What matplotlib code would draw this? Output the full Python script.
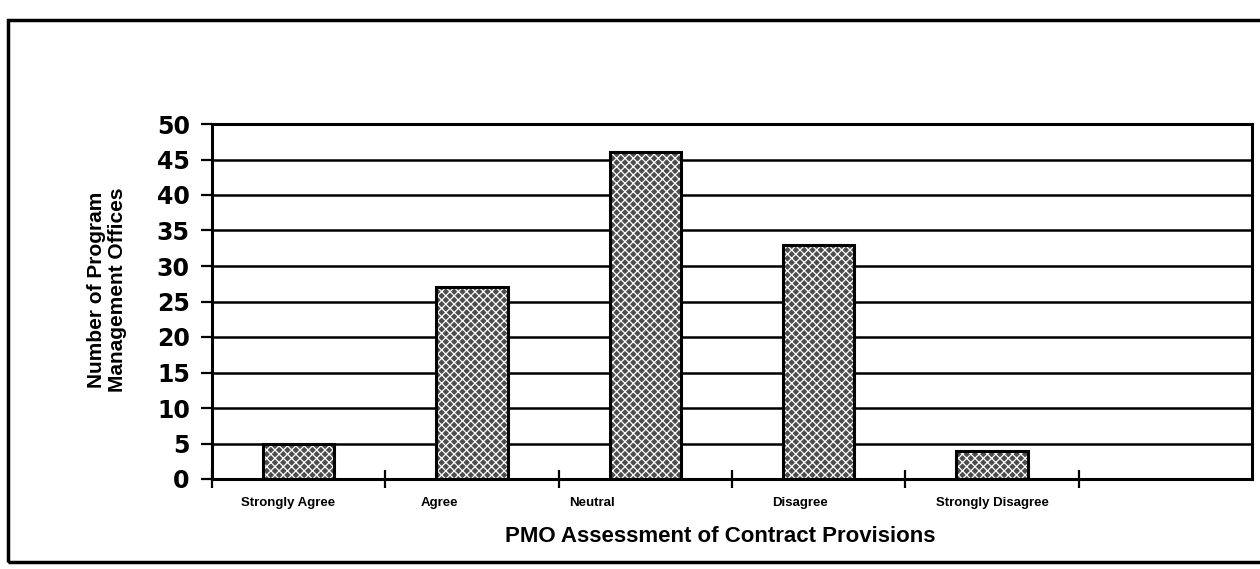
import numpy as np
import matplotlib.pyplot as plt
from matplotlib.patches import Rectangle

categories = ["Strongly Agree", "Agree", "Neutral", "Disagree", "Strongly Disagree"]
offices = [5, 27, 46, 33, 4]
y_ticks = [0, 5, 10, 15, 20, 25, 30, 35, 40, 45, 50]

# category labels were placed by hand in the original, a bit left of the bars
label_shift = [-0.06, -0.19, -0.31, -0.11, 0.0]

plt.rcParams["font.family"] = ["Liberation Sans", "DejaVu Sans"]
plt.rcParams["font.weight"] = "bold"
plt.rcParams["hatch.linewidth"] = 0.9

fig = plt.figure(figsize=(12.6, 5.69), dpi=100)
ax = fig.add_axes([212 / 1260, 1 - 479 / 569, 1040 / 1260, 355 / 569])

x = np.arange(len(categories)) + 0.5
# stippled fill, then the heavy outline on top
ax.bar(x, offices, width=0.41, color="#4d4d4d", edgecolor="white",
       hatch="xxxx", linewidth=0, zorder=3)
ax.bar(x, offices, width=0.41, fill=False, edgecolor="black",
       linewidth=2.2, zorder=4)

ax.set_xlim(0, 6)
ax.set_ylim(0, 50)
ax.set_yticks(y_ticks)
ax.set_xticks(range(0, 6))
ax.set_xticklabels([])
ax.yaxis.grid(True, color="black", linewidth=1.8)
ax.set_axisbelow(True)

ax.tick_params(axis="x", direction="inout", length=13, width=1.6)
ax.tick_params(axis="y", direction="out", length=8, width=1.6,
               labelsize=17, pad=8)
for lab in ax.get_yticklabels():
    lab.set_fontfamily("DejaVu Sans")
    lab.set_fontweight("bold")

for side in ["left", "right", "top", "bottom"]:
    ax.spines[side].set_linewidth(2.2)
    ax.spines[side].set_color("black")

for i, name in enumerate(categories):
    ax.text(x[i] + label_shift[i], -0.068, name, transform=ax.get_xaxis_transform(),
            ha="center", va="center", fontsize=9.5, fontweight="bold")

fig.text(720 / 1260, 1 - 536 / 569, "PMO Assessment of Contract Provisions",
         ha="center", va="center", fontsize=16, fontweight="bold")
fig.text(107 / 1260, 1 - 290 / 569, "Number of Program\nManagement Offices",
         rotation=90, ha="center", va="center", fontsize=15,
         fontweight="bold", linespacing=1.15)

# outer frame of the scanned page, right side runs off the picture
fig.patches.append(Rectangle((8 / 1260, 1 - 562 / 569), 1.0, 542 / 569,
                             transform=fig.transFigure, fill=False,
                             linewidth=2.5, edgecolor="black"))

fig.savefig("out.png", dpi=100)
